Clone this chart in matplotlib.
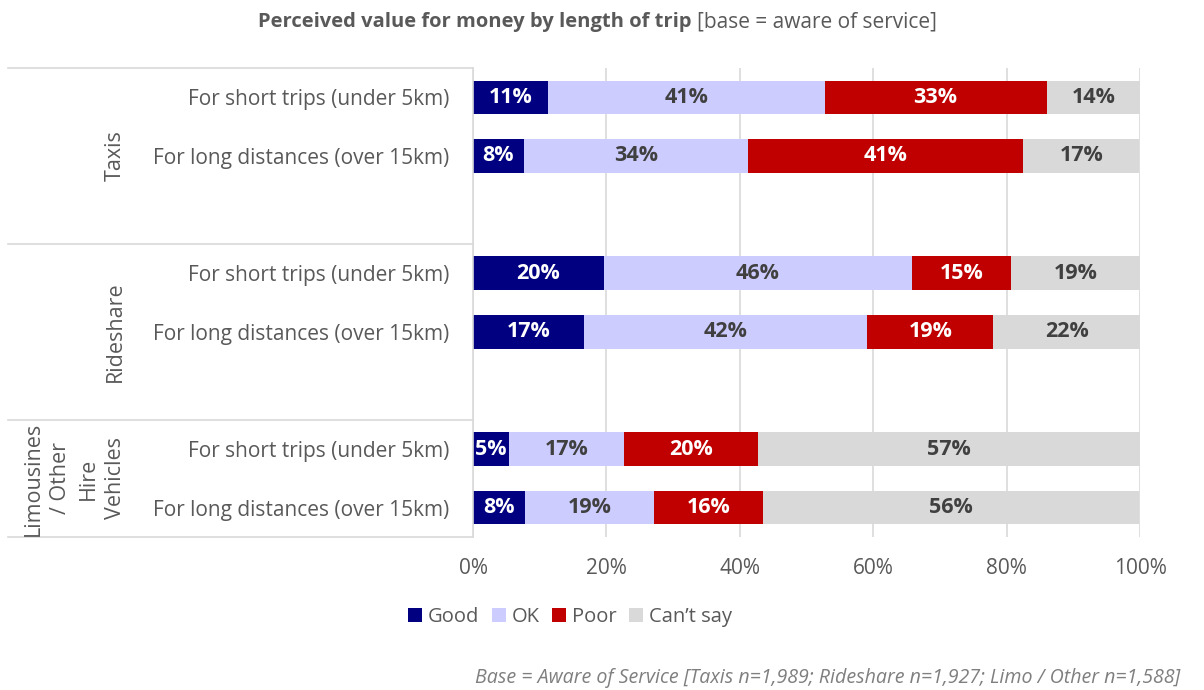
import matplotlib
matplotlib.use("Agg")
import matplotlib.pyplot as plt
from matplotlib.patches import Patch

plt.rcParams["font.family"] = ["Open Sans", "DejaVu Sans"]

# Data: share of respondents rating value for money, per service and trip length
groups = ["Taxis", "Rideshare", "Limousines\n/ Other\nHire\nVehicles"]
trips = ["For short trips (under 5km)", "For long distances (over 15km)"]
ratings = ["Good", "OK", "Poor", "Can\u2019t say"]

good = [11.3, 7.6, 19.6, 16.7, 5.4, 7.8]
ok = [41.4, 33.7, 46.2, 42.4, 17.3, 19.3]
poor = [33.3, 41.2, 14.9, 18.9, 20.1, 16.4]
cant_say = [14.0, 17.4, 19.3, 22.0, 57.2, 56.4]

colors = ["#000080", "#CCCCFF", "#C00000", "#D9D9D9"]
label_colors = ["white", "#404040", "white", "#404040"]
grey = "#595959"
line_grey = "#D9D9D9"

W, H = 1204, 690
fig = plt.figure(figsize=(W / 100, H / 100), dpi=100)
ax = fig.add_axes([473 / W, 1 - 537 / H, (1140 - 473) / W, (537 - 68) / H])

# two bars per group, one empty slot between groups
rows = [0, 1, 3, 4, 6, 7]
series = [good, ok, poor, cant_say]
left = [0.0] * len(rows)
for vals, col, lcol in zip(series, colors, label_colors):
    ax.barh(rows, vals, left=left, height=0.57, color=col, zorder=2)
    for r, v, l in zip(rows, vals, left):
        ax.text(l + v / 2, r, f"{v:.0f}%", ha="center", va="center",
                color=lcol, fontsize=15.5, fontweight="bold", zorder=3)
    left = [l + v for l, v in zip(left, vals)]

ax.set_xlim(0, 100)
ax.set_ylim(7.5, -0.5)
ax.set_xticks(range(0, 101, 20))
ax.set_xticklabels([f"{t}%" for t in range(0, 101, 20)])
ax.set_yticks(rows)
ax.set_yticklabels(trips * 3)
ax.tick_params(axis="y", length=0, pad=17, labelsize=15, labelcolor=grey)
ax.tick_params(axis="x", length=0, pad=15, labelsize=15, labelcolor=grey)
ax.grid(axis="x", color=line_grey, linewidth=1.2, zorder=0)
for s in ["top", "right", "bottom"]:
    ax.spines[s].set_visible(False)
ax.spines["left"].set_color(line_grey)
ax.spines["left"].set_linewidth(1.2)
ax.spines["left"].set_zorder(4)

# group separators and group names on the left
ytr = ax.get_yaxis_transform()
x_start = (8 - 473) / (1140 - 473)
for y in [-0.5, 2.5, 5.5, 7.5]:
    ax.plot([x_start, 0], [y, y], color=line_grey, linewidth=1.2,
            transform=ytr, clip_on=False)
x_grp = (126 - 473) / (1140 - 473)
for name, yc in zip(groups, [1.0, 4.0, 6.5]):
    ax.text(x_grp, yc, name, rotation=90, ha="right", va="center",
            multialignment="center", fontsize=15.5, color=grey,
            linespacing=1.4, transform=ytr)

# title in two weights
fig.text(692 / W, 1 - 22 / H, "Perceived value for money by length of trip",
         ha="right", va="center", fontsize=14.5, fontweight="bold", color=grey)
fig.text(697 / W, 1 - 22 / H, "[base = aware of service]",
         ha="left", va="center", fontsize=15, color=grey)

handles = [Patch(facecolor=c, edgecolor="none") for c in colors]
fig.legend(handles, ratings, loc="center", bbox_to_anchor=(570 / W, 1 - 617 / H),
           ncol=4, frameon=False, fontsize=14.5, labelcolor=grey,
           handlelength=0.7, handleheight=0.7, handletextpad=0.3,
           columnspacing=0.6)

fig.text(1180 / W, 1 - 678 / H,
         "Base = Aware of Service [Taxis n=1,989; Rideshare n=1,927; Limo / Other n=1,588]",
         ha="right", va="center", fontsize=14.1, style="italic", color="#7F7F7F")

fig.savefig("out.png", dpi=100)
